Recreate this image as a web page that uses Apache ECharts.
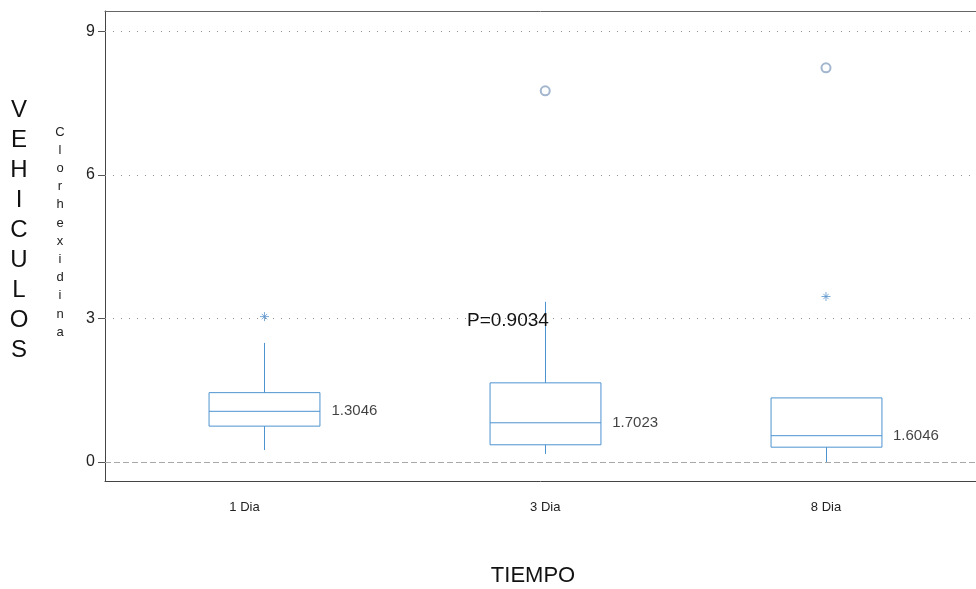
<!DOCTYPE html>
<html><head><meta charset="utf-8">
<script src="https://cdn.jsdelivr.net/npm/echarts@6/dist/echarts.min.js"></script>
<style>html,body{margin:0;background:#fff}#c{width:976px;height:589px}</style>
</head><body><div id="c"></div>
<script>
const categories = ['1 Dia', '3 Dia', '8 Dia'];
const boxMin = [0.25, 0.17, 0.0];
const boxQ1 = [0.75, 0.36, 0.31];
const boxMedian = [1.06, 0.82, 0.55];
const boxQ3 = [1.45, 1.655, 1.34];
const boxMax = [2.49, 3.35, 1.34];
const meanLabels = ['1.3046', '1.7023', '1.6046'];
const circleOutliers = [[2, 7.76], [3, 8.24]];
const starOutliers = [[1, 3.04], [3, 3.46]];
const yTicks = [0, 3, 6, 9];
const gridValues = [3, 6, 9];
const pValue = 'P=0.9034';
const yTitle = 'VEHICULOS';
const ySubTitle = 'Clorhexidina';
const xTitle = 'TIEMPO';

const BLUE = '#4d93d0';
const FONT = '"Liberation Sans", Arial, sans-serif';
const xs = categories.map((c, i) => i + 1);
const boxData = xs.map((x, i) => [x, boxMin[i], boxQ1[i], boxMedian[i], boxQ3[i], boxMax[i]]);
const meanData = xs.map((x, i) => [x, boxMedian[i], meanLabels[i]]);
const X_MIN = 0.4319, X_MAX = 3.5343, Y_MIN = -0.397, Y_MAX = 9.429;

const chart = echarts.init(document.getElementById('c'));
chart.setOption({
  animation: false,
  backgroundColor: '#fff',
  grid: { left: 105, top: 11, right: 0, bottom: 108, containLabel: false },
  xAxis: [{
    type: 'value', min: X_MIN, max: X_MAX, position: 'bottom',
    axisLine: { show: true, onZero: false, lineStyle: { color: '#444', width: 1 } },
    axisTick: { show: false },
    splitLine: { show: false },
    axisLabel: {
      customValues: xs, margin: 20, color: '#222', fontSize: 13, fontFamily: FONT,
      formatter: v => { const i = Math.round(v) - 1; return i === 0 ? '{a|' + categories[i] + '}' : categories[i]; },
      rich: { a: { padding: [0, 40, 0, 0], fontSize: 13, fontFamily: FONT, color: '#222' } }
    }
  }, {
    type: 'value', min: X_MIN, max: X_MAX, position: 'top',
    axisLine: { show: true, onZero: false, lineStyle: { color: '#666', width: 1 } },
    axisTick: { show: false }, axisLabel: { show: false }, splitLine: { show: false }
  }],
  yAxis: {
    type: 'value', min: Y_MIN, max: Y_MAX,
    axisLine: { show: true, onZero: false, lineStyle: { color: '#444', width: 1 } },
    axisTick: { show: true, customValues: yTicks, length: 7, lineStyle: { color: '#555' } },
    splitLine: { show: false },
    axisLabel: { customValues: yTicks, margin: 10, color: '#222', fontSize: 16, fontFamily: FONT }
  },
  series: [{
    type: 'custom',
    data: boxData,
    encode: { x: 0, y: [1, 2, 3, 4, 5] },
    z: 3,
    renderItem: (params, api) => {
      const x = api.value(0);
      const lo = api.coord([x, api.value(1)]);
      const q1 = api.coord([x, api.value(2)]);
      const md = api.coord([x, api.value(3)]);
      const q3 = api.coord([x, api.value(4)]);
      const hi = api.coord([x, api.value(5)]);
      const w = api.size([0.395, 0])[0];
      const cx = Math.round(lo[0]) + 0.5, l = cx - w / 2, r = cx + w / 2;
      const st = { stroke: BLUE, lineWidth: 1, fill: 'none' };
      return { type: 'group', children: [
        { type: 'rect', shape: { x: l, y: q3[1], width: w, height: q1[1] - q3[1] }, style: { stroke: BLUE, lineWidth: 1, fill: '#fff' } },
        { type: 'line', shape: { x1: l, y1: md[1], x2: r, y2: md[1] }, style: st },
        { type: 'line', shape: { x1: cx, y1: q3[1], x2: cx, y2: hi[1] }, style: st },
        { type: 'line', shape: { x1: cx, y1: q1[1], x2: cx, y2: lo[1] }, style: st }
      ] };
    }
  }, {
    type: 'scatter',
    data: meanData,
    symbolSize: 0,
    z: 4,
    label: {
      show: true, position: 'right', distance: 67, formatter: p => p.data[2],
      color: '#111', fontSize: 15, fontFamily: FONT
    },
    markLine: {
      silent: true, symbol: 'none', label: { show: false }, z: 1,
      data: gridValues.map(v => ({ yAxis: v, lineStyle: { color: '#8f8f8f', type: [1, 7], width: 1 } }))
        .concat([{ yAxis: 0, lineStyle: { color: '#a8a8a8', type: [6, 3], width: 1 } }])
    }
  }, {
    type: 'scatter', data: circleOutliers, symbol: 'emptyCircle', symbolSize: 9, z: 5,
    itemStyle: { color: '#8ba4c2', borderColor: '#8ba4c2', borderWidth: 1 }
  }, {
    type: 'scatter', data: starOutliers, z: 5,
    symbol: 'path://M5,0L5,10M0,5L10,5M2,2L8,8M8,2L2,8', symbolSize: 9,
    itemStyle: { color: 'none', borderColor: '#5a93cc', borderWidth: 1 }
  }],
  graphic: [
    { type: 'text', x: 19, y: 95, z: 10, style: { text: yTitle.split('').join('\n'), font: '24px ' + FONT, lineHeight: 30, textAlign: 'center', textVerticalAlign: 'top', fill: '#111' } },
    { type: 'text', x: 60, y: 123, z: 10, style: { text: ySubTitle.split('').join('\n'), font: '13px ' + FONT, lineHeight: 18.2, textAlign: 'center', textVerticalAlign: 'top', fill: '#222' } },
    { type: 'text', x: 533, y: 576, z: 10, style: { text: xTitle, font: '22px ' + FONT, textAlign: 'center', textVerticalAlign: 'middle', fill: '#111' } },
    { type: 'text', x: 467, y: 321, z: 10, style: { text: pValue, font: '19px ' + FONT, textAlign: 'left', textVerticalAlign: 'middle', fill: '#111' } }
  ]
});
</script></body></html>
